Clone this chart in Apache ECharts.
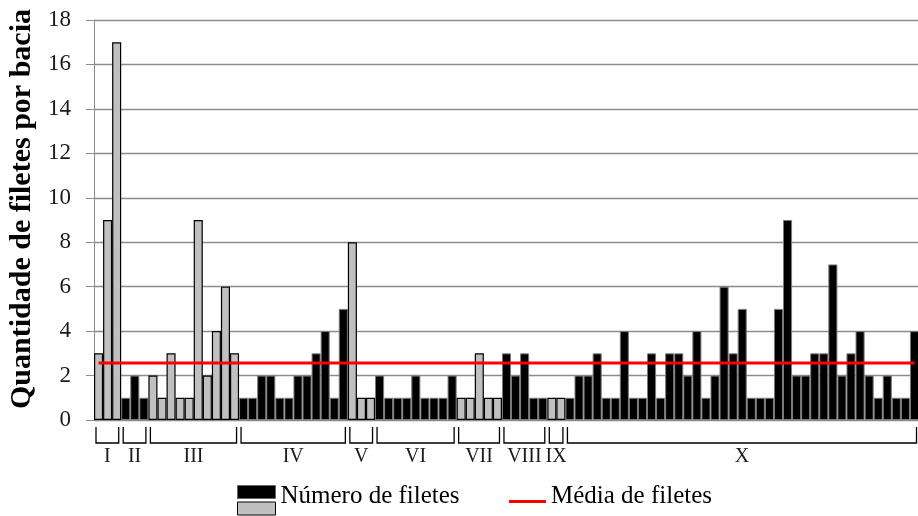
<!DOCTYPE html>
<html>
<head>
<meta charset="utf-8">
<script src="https://cdn.jsdelivr.net/npm/echarts@6/dist/echarts.min.js"></script>
<style>html,body{margin:0;padding:0;background:#fff}#c{width:918px;height:516px}</style>
</head>
<body>
<div id="c"></div>
<script>
// Quantidade de filetes por bacia (ordem das bacias)
const filetes = [
  3, 9, 17,                                   // I
  1, 2, 1,                                    // II
  2, 1, 3, 1, 1, 9, 2, 4, 6, 3,               // III
  1, 1, 2, 2, 1, 1, 2, 2, 3, 4, 1, 5,         // IV
  8, 1, 1,                                    // V
  2, 1, 1, 1, 2, 1, 1, 1, 2,                  // VI
  1, 1, 3, 1, 1,                              // VII
  3, 2, 3, 1, 1,                              // VIII
  1, 1,                                       // IX
  1, 2, 2, 3, 1, 1, 4, 1, 1, 3, 1, 3, 3, 2, 4, 1, 2, 6, 3, 5,
  1, 1, 1, 5, 9, 2, 2, 3, 3, 7, 2, 3, 4, 2, 1, 2, 1, 1, 4   // X
];
const grupos = ['I', 'II', 'III', 'IV', 'V', 'VI', 'VII', 'VIII', 'IX', 'X'];
const grupoTamanho = [3, 3, 10, 12, 3, 9, 5, 5, 2, 39];
const grupoCor = ['cinza', 'preto', 'cinza', 'preto', 'cinza', 'preto', 'cinza', 'preto', 'cinza', 'preto'];
const mediaFiletes = 2.57;
const yTicks = [0, 2, 4, 6, 8, 10, 12, 14, 16, 18];

const categorias = filetes.map((_, i) => String(i + 1));
const tipo = [];
const faixas = [];
let pos = 0;
grupos.forEach((g, k) => {
  faixas.push([pos, pos + grupoTamanho[k] - 1, 0, g]);
  for (let j = 0; j < grupoTamanho[k]; j++) tipo.push(grupoCor[k]);
  pos += grupoTamanho[k];
});
const pretos = filetes.map((v, i) => tipo[i] === 'preto' ? v : '-');
const cinzas = filetes.map((v, i) => tipo[i] === 'cinza' ? v : '-');

const serif = '"Liberation Serif", "DejaVu Serif", serif';
const chart = echarts.init(document.getElementById('c'), null, {renderer: 'canvas'});
chart.setOption({
  animation: false,
  grid: {left: 94, top: 20, width: 825, height: 400, containLabel: false, outerBoundsMode: 'none'},
  xAxis: {
    type: 'category', data: categorias,
    axisLine: {show: true, lineStyle: {color: '#8c8c8c', width: 1}},
    axisTick: {show: false}, axisLabel: {show: false}, splitLine: {show: false}
  },
  yAxis: {
    type: 'value', min: yTicks[0], max: yTicks[yTicks.length - 1], interval: 2,
    name: 'Quantidade de filetes por bacia', nameLocation: 'middle', nameGap: 57,
    nameTextStyle: {fontFamily: serif, fontWeight: 'bold', fontSize: 30, color: '#000', padding: [0, 0, 0, 22]},
    axisLine: {show: true, lineStyle: {color: '#8c8c8c', width: 1}},
    axisTick: {show: true, length: 8, lineStyle: {color: '#8c8c8c'}},
    axisLabel: {fontFamily: serif, fontSize: 23, color: '#1a1a1a', margin: 23},
    splitLine: {show: true, lineStyle: {color: '#8c8c8c', width: 1.3}}
  },
  legend: [
    {left: 237, top: 485, padding: 0, itemWidth: 38, itemHeight: 13, selectedMode: false,
     data: [{name: 'Número de filetes', icon: 'rect', itemStyle: {color: '#000', borderColor: '#666', borderWidth: 1}}],
     formatter: () => '', textStyle: {fontSize: 1}},
    {left: 237, top: 484, padding: 0, itemWidth: 38, itemHeight: 13, selectedMode: false,
     data: [{name: 'Número de filetes', icon: 'rect', itemStyle: {color: '#c0c0c0', borderColor: '#000', borderWidth: 1}}],
     formatter: '{t|{name}}',
     textStyle: {rich: {t: {fontFamily: serif, fontSize: 25, lineHeight: 25, color: '#000', padding: [0, 0, 24, 0]}}}},
    {left: 509, top: 484, padding: 0, itemWidth: 37, itemHeight: 3, selectedMode: false,
     data: [{name: 'Média de filetes', icon: 'rect', itemStyle: {color: '#ff0000'}}],
     formatter: '{t|{name}}',
     textStyle: {rich: {t: {fontFamily: serif, fontSize: 25, lineHeight: 25, color: '#000', padding: [0, 0, 10, 0]}}}}
  ],
  series: [
    {name: 'Número de filetes', type: 'bar', data: pretos, barCategoryGap: '0%', barGap: '-100%',
     itemStyle: {color: '#000', borderColor: '#7a7a7a', borderWidth: 1}},
    {name: 'Número de filetes', type: 'bar', data: cinzas, barCategoryGap: '0%', barGap: '-100%',
     itemStyle: {color: '#c0c0c0', borderColor: '#000', borderWidth: 1.2}},
    {name: 'Média de filetes', type: 'line', symbol: 'none', z: 5,
     data: [[0, mediaFiletes], [filetes.length - 1, mediaFiletes]],
     lineStyle: {color: '#ff0000', width: 3}, itemStyle: {color: '#ff0000'}},
    {name: 'grupos', type: 'custom', clip: false, silent: true, z: 6,
     data: faixas, encode: {x: [0, 1], y: 2},
     renderItem: function (params, api) {
       const a = api.coord([api.value(0), 0]);
       const b = api.coord([api.value(1), 0]);
       const w = api.size([1, 0])[0];
       const x1 = a[0] - w / 2 + 2, x2 = b[0] + w / 2 - 2.5;
       const y0 = a[1] + 7, y1 = a[1] + 23;
       return {type: 'group', children: [
         {type: 'polyline', shape: {points: [[x1, y0], [x1, y1], [x2, y1], [x2, y0]]},
          style: {stroke: '#000', lineWidth: 1.3, fill: null}},
         {type: 'text', style: {text: faixas[params.dataIndex][3], x: (x1 + x2) / 2, y: a[1] + 37,
          align: 'center', verticalAlign: 'middle', font: '20px ' + serif, fill: '#1a1a1a'}}
       ]};
     }}
  ]
});
</script>
</body>
</html>
